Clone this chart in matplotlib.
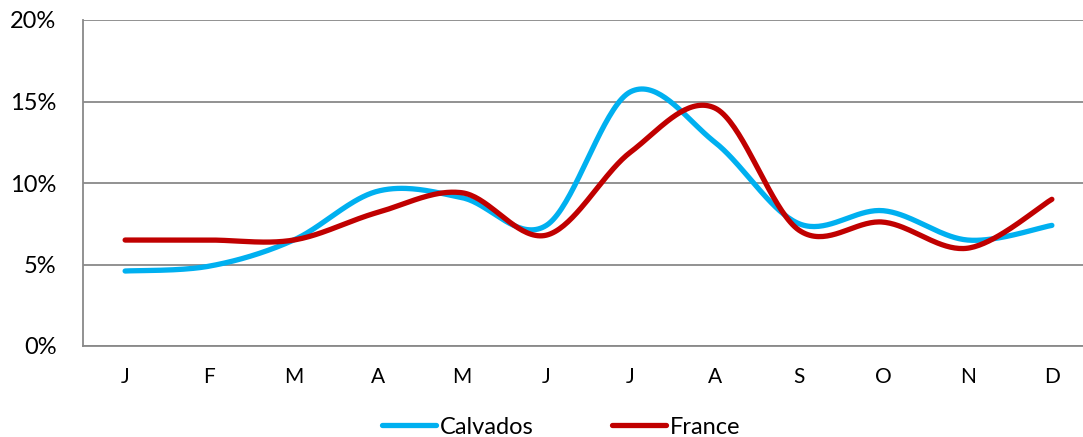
import numpy as np
import matplotlib.pyplot as plt
from matplotlib.ticker import PercentFormatter

plt.rcParams['font.family'] = ['Lato', 'DejaVu Sans']

months = ["J", "F", "M", "A", "M", "J", "J", "A", "S", "O", "N", "D"]
calvados = [4.6, 4.9, 6.5, 9.5, 9.1, 7.4, 15.6, 12.5, 7.5, 8.3, 6.5, 7.4]
france = [6.5, 6.5, 6.5, 8.2, 9.4, 6.8, 11.9, 14.6, 7.1, 7.6, 6.0, 9.0]


def smooth(y, n=40):
    # Bezier smoothing between points, tangents from neighbours (spreadsheet-style)
    y = np.asarray(y, float)
    x = np.arange(len(y), dtype=float)
    xs, ys = [], []
    for i in range(len(y) - 1):
        y0 = y[i - 1] if i > 0 else y[i]
        y3 = y[i + 2] if i + 2 < len(y) else y[i + 1]
        x0 = x[i - 1] if i > 0 else x[i]
        x3 = x[i + 2] if i + 2 < len(y) else x[i + 1]
        p1 = (x[i] + (x[i + 1] - x0) / 6, y[i] + (y[i + 1] - y0) / 6)
        p2 = (x[i + 1] - (x3 - x[i]) / 6, y[i + 1] - (y3 - y[i]) / 6)
        t = np.linspace(0, 1, n)
        a, b, c, d = (1 - t) ** 3, 3 * (1 - t) ** 2 * t, 3 * (1 - t) * t ** 2, t ** 3
        xs.append(a * x[i] + b * p1[0] + c * p2[0] + d * x[i + 1])
        ys.append(a * y[i] + b * p1[1] + c * p2[1] + d * y[i + 1])
    return np.concatenate(xs), np.concatenate(ys)


fig = plt.figure(figsize=(10.83, 4.37), dpi=100)
ax = fig.add_axes([83 / 1083, 91 / 437, 1011 / 1083, 326 / 437])

for vals, col, lab in [(calvados, "#00B0F0", "Calvados"), (france, "#C00000", "France")]:
    sx, sy = smooth(vals)
    ax.plot(sx, sy, color=col, lw=3.8, solid_capstyle="round", label=lab, clip_on=False)

ax.set_xlim(-0.5, 11.5)
ax.set_ylim(0, 20)
ax.set_yticks([0, 5, 10, 15, 20])
ax.yaxis.set_major_formatter(PercentFormatter(decimals=0))
ax.set_xticks(range(12))
ax.set_xticklabels(months)
ax.grid(axis="y", color="#898989", lw=1.3)
ax.set_axisbelow(True)
for s in ["top", "right"]:
    ax.spines[s].set_visible(False)
for s in ["left", "bottom"]:
    ax.spines[s].set_color("#898989")
    ax.spines[s].set_linewidth(1.3)
ax.tick_params(axis="both", length=0, labelsize=17)
ax.tick_params(axis="y", pad=19)
ax.tick_params(axis="x", pad=15, labelsize=15)

fig.legend(loc="center", bbox_to_anchor=(561 / 1083, 1 - 427 / 437), ncol=2,
           frameon=False, fontsize=17, handlelength=2.3, handletextpad=0.15,
           columnspacing=3.3)

fig.savefig("out.png", dpi=100)
